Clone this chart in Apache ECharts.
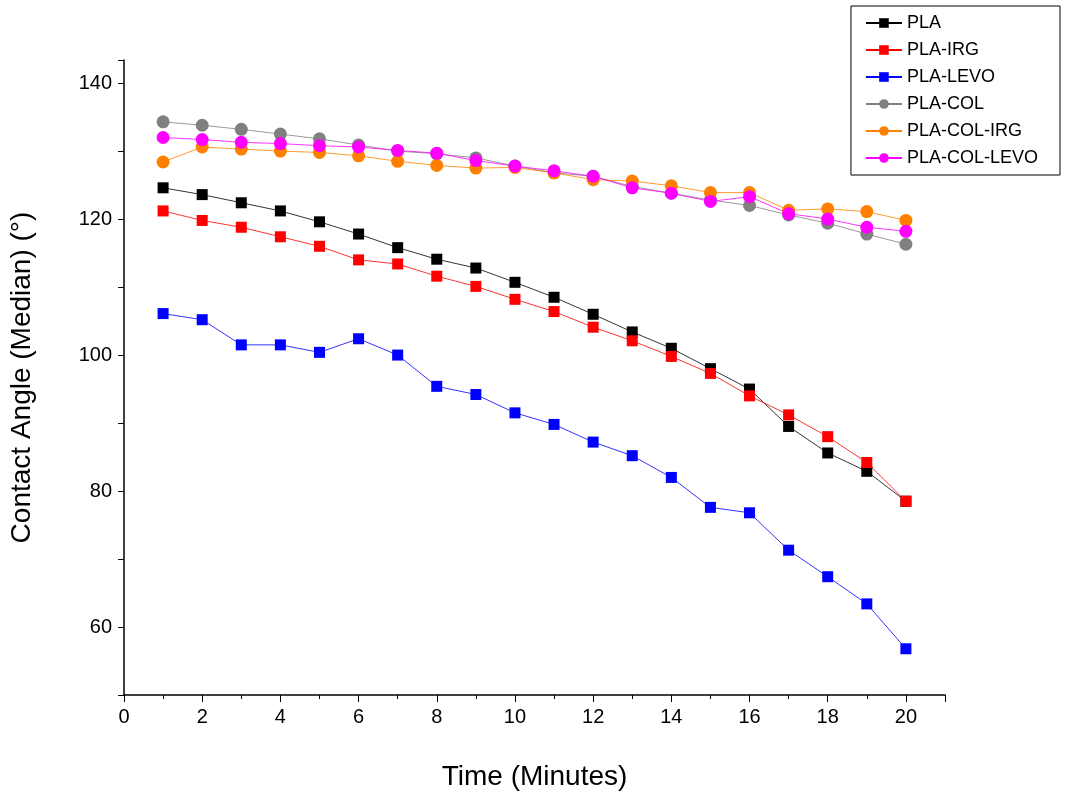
<!DOCTYPE html>
<html><head><meta charset="utf-8">
<script src="https://cdn.jsdelivr.net/npm/echarts@6/dist/echarts.min.js"></script>
<style>html,body{margin:0;background:#fff}#c{width:1069px;height:798px}</style>
</head><body><div id="c"></div>
<script>
var minutes = [1,2,3,4,5,6,7,8,9,10,11,12,13,14,15,16,17,18,19,20];
var pla = [124.6,123.6,122.4,121.2,119.6,117.8,115.8,114.1,112.8,110.7,108.5,106.0,103.4,101.0,98.0,95.0,89.5,85.6,82.9,78.5];
var plaIrg = [121.2,119.8,118.8,117.4,116.0,114.0,113.4,111.6,110.1,108.2,106.4,104.1,102.1,99.8,97.3,94.0,91.2,88.0,84.2,78.5];
var plaLevo = [106.1,105.2,101.5,101.5,100.4,102.4,100.0,95.4,94.2,91.5,89.8,87.2,85.2,82.0,77.6,76.8,71.3,67.4,63.4,56.8];
var plaCol = [134.3,133.8,133.2,132.5,131.8,130.9,130.0,129.6,129.0,127.8,126.8,126.3,124.8,123.8,122.8,122.0,120.6,119.4,117.8,116.3];
var plaColIrg = [128.4,130.6,130.3,130.0,129.8,129.3,128.5,127.9,127.5,127.6,126.8,125.8,125.6,124.9,123.9,123.9,121.3,121.5,121.1,119.8];
var plaColLevo = [132.0,131.7,131.3,131.1,130.8,130.6,130.1,129.7,128.6,127.8,127.1,126.3,124.6,123.8,122.6,123.3,120.8,120.0,118.8,118.2];

var chart = echarts.init(document.getElementById('c'));
function pair(arr){ return minutes.map(function(m,i){ return [m, arr[i]]; }); }
function mk(name, data, color, sym){
  return {name:name, type:'line', data:pair(data), symbol:sym, symbolSize: sym==='rect'?11:13,
    lineStyle:{color:color,width:0.8}, itemStyle:{color:color}};
}
var font = 'Arial, Liberation Sans';
var option = {
  backgroundColor:'#fff',
  animation:false,
  grid:{left:121,right:124,top:60,bottom:103},
  legend:{
    orient:'vertical', right:9, top:6, itemGap:9, itemWidth:36, itemHeight:12,
    borderColor:'#000', borderWidth:1, padding:[8,22,8,14], borderRadius:0,
    textStyle:{fontFamily:font, fontSize:18, color:'#000'},
    data:['PLA','PLA-IRG','PLA-LEVO','PLA-COL','PLA-COL-IRG','PLA-COL-LEVO']
  },
  xAxis:{type:'value', min:0, max:21, interval:2,
    name:'Time (Minutes)', nameLocation:'middle', nameGap:68,
    nameTextStyle:{fontFamily:font, fontSize:28, color:'#000'},
    axisLine:{lineStyle:{color:'#000',width:1.5}},
    axisTick:{length:7, lineStyle:{color:'#000'}},
    minorTick:{show:true, splitNumber:2, length:4, lineStyle:{color:'#000'}},
    axisLabel:{fontFamily:font, fontSize:20, color:'#000', margin:12,
      formatter:function(v){return v>20?'':v;}},
    splitLine:{show:false}},
  yAxis:{type:'value', min:50, max:143.4, interval:10,
    name:'Contact Angle (Median) (°)', nameLocation:'middle', nameGap:88,
    nameTextStyle:{fontFamily:font, fontSize:28, color:'#000'},
    axisLine:{show:true, lineStyle:{color:'#000',width:1.5}},
    axisTick:{show:true, length:6, lineStyle:{color:'#000'}},
    axisLabel:{fontFamily:font, fontSize:20, color:'#000', margin:12,
      formatter:function(v){return (v%20===0 && v<=140)?v:'';}},
    splitLine:{show:false}},
  series:[
    mk('PLA',pla,'#000000','rect'),
    mk('PLA-IRG',plaIrg,'#ff0000','rect'),
    mk('PLA-LEVO',plaLevo,'#0000ff','rect'),
    mk('PLA-COL',plaCol,'#808080','circle'),
    mk('PLA-COL-IRG',plaColIrg,'#ff8000','circle'),
    mk('PLA-COL-LEVO',plaColLevo,'#ff00ff','circle')
  ]
};
chart.setOption(option);
</script></body></html>
